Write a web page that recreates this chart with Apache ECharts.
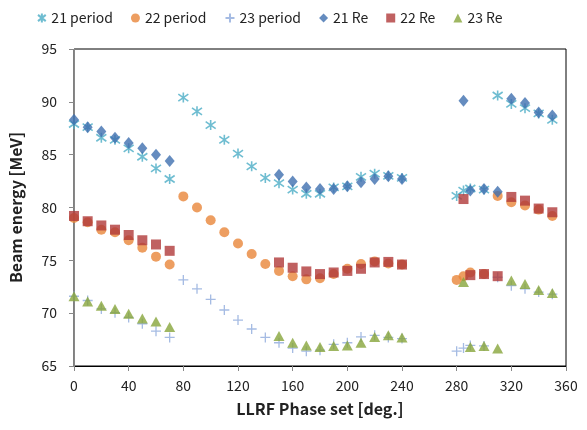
<!DOCTYPE html>
<html><head><meta charset="utf-8">
<script src="https://cdn.jsdelivr.net/npm/echarts@6/dist/echarts.min.js"></script>
<style>html,body{margin:0;padding:0;background:#fff}#c{width:587px;height:430px}</style>
</head><body><div id="c"></div>
<script>
var xTicks = [0,40,80,120,160,200,240,280,320,360];
var yTicks = [65,70,75,80,85,90,95];
var xPeriod = [0,10,20,30,40,50,60,70,80,90,100,110,120,130,140,150,160,170,180,190,200,210,220,230,240,280,285,290,300,310,320,330,340,350];
var p21 = [87.9,87.6,86.6,86.4,85.6,84.8,83.7,82.7,90.4,89.1,87.8,86.4,85.1,83.9,82.8,82.3,81.7,81.3,81.3,81.9,82.0,82.9,83.2,83.0,82.8,81.1,81.6,81.8,81.7,90.6,89.8,89.4,88.9,88.3];
var p22 = [79.0,78.6,77.9,77.65,76.9,76.2,75.35,74.6,81.05,80.0,78.8,77.65,76.6,75.6,74.65,74.0,73.5,73.2,73.3,73.7,74.2,74.65,74.9,74.7,74.6,73.15,73.5,73.85,73.7,81.1,80.5,80.2,79.8,79.2];
var p23 = [71.6,71.2,70.4,70.05,69.6,69.0,68.3,67.7,73.15,72.3,71.3,70.3,69.35,68.5,67.7,67.2,66.7,66.4,66.5,67.05,67.2,67.75,67.9,67.7,67.6,66.4,66.7,66.95,66.9,73.4,72.6,72.3,72.0,71.8];
var xRe = [0,10,20,30,40,50,60,70,150,160,170,180,190,200,210,220,230,240,285,290,300,310,320,330,340,350];
var r21 = [88.3,87.6,87.2,86.6,86.1,85.6,85.0,84.4,83.1,82.45,81.9,81.75,81.75,82.0,82.4,82.7,82.95,82.7,90.1,81.6,81.75,81.5,90.3,89.9,89.0,88.7];
var r22 = [79.2,78.7,78.3,77.9,77.4,76.9,76.5,75.9,74.8,74.3,73.95,73.7,73.85,74.0,74.2,74.8,74.85,74.6,80.8,73.6,73.7,73.5,81.0,80.65,79.9,79.55];
var r23 = [71.6,71.1,70.7,70.4,69.95,69.5,69.2,68.7,67.85,67.2,66.95,66.8,66.9,66.95,67.2,67.75,67.9,67.7,72.95,66.8,66.9,66.65,73.1,72.75,72.2,71.9];
var names = ['21 period','22 period','23 period','21 Re','22 Re','23 Re'];

function pairs(xs, ys){ return xs.map(function(x,i){return [x, ys[i]];}); }
var FONT = "'Noto Sans CJK KR', 'Noto Sans', sans-serif";
var star = 'path://M5,0L5,10M0.7,1.5L9.3,8.5M9.3,1.5L0.7,8.5';
var plus = 'path://M5,0L5,10M0,5L10,5';

var chart = echarts.init(document.getElementById('c'), null, {renderer:'canvas'});
chart.setOption({
  animation:false,
  textStyle:{fontFamily:FONT},
  legend:{
    top:6, left:32, itemGap:18, itemWidth:9, itemHeight:9,
    textStyle:{fontSize:14, color:'#222', fontFamily:FONT},
    data:names
  },
  grid:{left:74, right:21, top:49, bottom:64, show:true, borderColor:'#000', borderWidth:1},
  xAxis:{
    type:'value', min:0, max:360, interval:40,
    name:'LLRF Phase set [deg.]', nameLocation:'middle', nameGap:35,
    nameTextStyle:{fontSize:16, fontWeight:'bold', color:'#222'},
    axisLine:{show:true, lineStyle:{color:'#000', width:1}},
    axisTick:{show:true, length:5, lineStyle:{color:'#888'}},
    axisLabel:{fontSize:14, color:'#222', margin:13},
    splitLine:{show:false}
  },
  yAxis:{
    type:'value', min:65, max:95, interval:5,
    name:'Beam energy [MeV]', nameLocation:'middle', nameGap:50, nameRotate:90,
    nameTextStyle:{fontSize:16, fontWeight:'bold', color:'#222'},
    axisLine:{show:true, lineStyle:{color:'#888', width:1}},
    axisTick:{show:true, length:5, lineStyle:{color:'#888'}},
    axisLabel:{fontSize:14, color:'#222', margin:17},
    splitLine:{show:false}
  },
  series:[
    {name:names[0], type:'scatter', data:pairs(xPeriod,p21), symbol:star, symbolSize:10,
     itemStyle:{color:'rgba(0,0,0,0)', borderColor:'#4BACC6', borderWidth:1.6}},
    {name:names[1], type:'scatter', data:pairs(xPeriod,p22), symbol:'circle', symbolSize:10,
     itemStyle:{color:'#E8863A'}},
    {name:names[2], type:'scatter', data:pairs(xPeriod,p23), symbol:plus, symbolSize:10,
     itemStyle:{color:'rgba(0,0,0,0)', borderColor:'#8FAADC', borderWidth:1.3}},
    {name:names[3], type:'scatter', data:pairs(xRe,r21), symbol:'diamond', symbolSize:[10,12],
     itemStyle:{color:'#3F6FAF'}},
    {name:names[4], type:'scatter', data:pairs(xRe,r22), symbol:'rect', symbolSize:10,
     itemStyle:{color:'#B03A3A'}},
    {name:names[5], type:'scatter', data:pairs(xRe,r23), symbol:'triangle', symbolSize:[11,10],
     itemStyle:{color:'#87A53B'}}
  ]
});
</script></body></html>
